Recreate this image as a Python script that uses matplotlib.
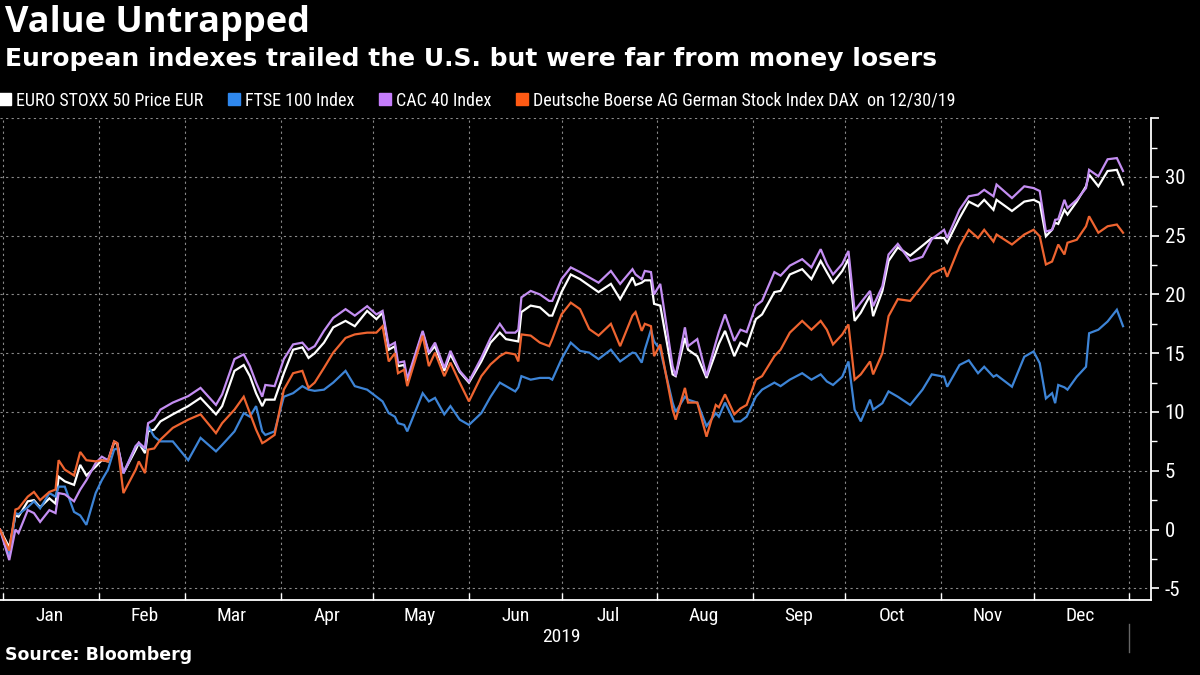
import numpy as np
import pandas as pd
import matplotlib
matplotlib.use('Agg')
import matplotlib.pyplot as plt
import matplotlib.dates as mdates
import matplotlib.transforms as mtransforms
from matplotlib import font_manager
from matplotlib.lines import Line2D

# --- data: % change since end of 2018 ---
# days since 2019-01-01
days = [-1, 2, 4, 5, 8, 10, 12, 15, 17, 18,
        20, 23, 25, 27, 30, 32, 34, 36, 37, 39,
        43, 44, 46, 47, 49, 51, 55, 60, 64, 69,
        71, 75, 78, 80, 82, 84, 85, 88, 91, 94,
        97, 99, 101, 104, 107, 111, 114, 118, 121, 123,
        125, 127, 128, 130, 131, 136, 138, 140, 143, 145,
        148, 151, 155, 158, 161, 163, 166, 167, 168, 171,
        174, 177, 178, 181, 184, 187, 190, 193, 197, 200,
        204, 205, 207, 208, 210, 211, 213, 217, 218, 221,
        222, 225, 228, 231, 232, 234, 237, 239, 241, 244,
        246, 250, 252, 255, 259, 262, 265, 267, 269, 272,
        274, 276, 278, 281, 282, 285, 287, 290, 294, 298,
        301, 305, 306, 310, 313, 316, 318, 321, 322, 327,
        331, 334, 336, 338, 340, 341, 342, 344, 345, 348,
        351, 352, 355, 358, 361, 363]

euro_stoxx = [0, -1.5, 1.2, 1.1, 2.4, 2.5, 1.9, 2.65, 2.2, 4.5,
              4.1, 3.8, 5.5, 4.6, 5.35, 5.9, 5.8, 7.4, 7.3, 4.8,
              6.8, 7.35, 6.5, 8.35, 8.5, 9.2, 9.8, 10.5, 11.2, 9.8,
              10.5, 13.5, 14.0, 13.05, 11.6, 10.5, 11.05, 11.05, 13.3, 15.3,
              15.5, 14.6, 15.0, 15.9, 17.2, 17.75, 17.3, 18.6, 17.9, 18.45,
              15.3, 15.6, 13.9, 14.0, 12.6, 16.75, 15.0, 15.6, 13.5, 14.9,
              13.4, 12.5, 14.3, 15.9, 16.75, 16.2, 16.05, 16.0, 18.5, 19.05,
              18.9, 18.2, 18.2, 20.2, 21.7, 21.3, 20.75, 20.2, 20.9, 19.6,
              21.45, 20.8, 21.0, 21.2, 21.2, 19.2, 19.05, 13.2, 13.05, 16.3,
              15.3, 14.75, 12.9, 15.05, 15.8, 16.9, 14.75, 15.9, 15.6, 17.9,
              18.3, 20.2, 20.3, 21.7, 22.15, 21.3, 22.85, 21.9, 21.0, 22.0,
              23.0, 17.75, 18.45, 19.9, 18.15, 20.3, 22.85, 24.0, 23.3, 24.15,
              24.8, 24.8, 24.4, 26.5, 27.9, 27.5, 28.05, 27.2, 28.05, 27.1,
              27.9, 28.05, 27.8, 24.95, 25.5, 26.1, 26.0, 27.2, 26.8, 27.9,
              29.2, 30.2, 29.2, 30.5, 30.6, 29.35]

ftse = [0, -2.3, 1.4, 1.3, 1.9, 2.4, 1.8, 3.1, 2.8, 3.65,
        3.65, 1.5, 1.2, 0.4, 3.1, 4.2, 5.1, 6.8, 6.9, 4.8,
        7.1, 7.3, 6.9, 8.8, 7.9, 7.5, 7.5, 5.9, 7.8, 6.65,
        7.2, 8.35, 9.9, 9.6, 10.5, 8.35, 8.05, 8.35, 11.3, 11.6,
        12.2, 11.9, 11.8, 11.9, 12.5, 13.5, 12.2, 11.9, 11.3, 10.9,
        9.9, 9.6, 9.05, 8.9, 8.35, 11.6, 10.9, 11.2, 9.8, 10.5,
        9.35, 8.9, 9.9, 11.3, 12.5, 12.2, 11.75, 12.1, 13.05, 12.75,
        12.9, 12.9, 12.75, 14.5, 15.9, 15.2, 15.05, 14.5, 15.3, 14.3,
        15.05, 15.0, 14.2, 15.3, 17.0, 16.0, 15.3, 10.8, 10.0, 11.3,
        11.05, 10.8, 8.8, 9.9, 9.6, 10.8, 9.2, 9.2, 9.6, 11.3,
        11.9, 12.5, 12.2, 12.75, 13.3, 12.75, 13.2, 12.6, 12.3, 13.0,
        14.3, 10.2, 9.2, 11.05, 10.2, 10.75, 11.75, 11.3, 10.6, 11.9,
        13.2, 13.0, 12.15, 14.0, 14.4, 13.3, 13.85, 13.0, 13.15, 12.15,
        14.7, 15.15, 14.15, 11.15, 11.6, 10.75, 12.3, 12.1, 11.9, 13.0,
        13.85, 16.7, 17.0, 17.7, 18.7, 17.3]

cac = [0, -2.6, 0.0, -0.3, 1.65, 1.4, 0.65, 1.65, 1.4, 3.1,
       3.0, 2.4, 3.4, 4.2, 5.65, 6.2, 5.9, 7.5, 7.35, 4.8,
       7.1, 7.4, 6.9, 9.05, 9.35, 10.2, 10.8, 11.35, 12.05, 10.6,
       11.5, 14.5, 14.9, 13.9, 12.5, 11.3, 12.3, 12.2, 14.5, 15.75,
       15.9, 15.3, 15.6, 16.9, 18.0, 18.75, 18.2, 19.0, 18.3, 18.6,
       15.6, 15.9, 14.2, 14.3, 12.8, 16.9, 15.05, 15.9, 13.75, 15.2,
       13.5, 12.6, 14.6, 16.3, 17.5, 16.75, 16.75, 17.0, 19.75, 20.3,
       20.0, 19.45, 19.45, 21.3, 22.3, 21.9, 21.45, 21.0, 22.0, 20.9,
       22.15, 21.7, 21.3, 22.0, 21.9, 20.0, 20.9, 13.9, 13.05, 17.2,
       15.6, 16.2, 13.05, 15.9, 16.8, 18.3, 16.05, 17.0, 16.8, 19.05,
       19.45, 21.9, 21.6, 22.45, 23.0, 22.3, 23.85, 22.6, 21.7, 22.6,
       23.7, 18.6, 19.3, 20.3, 19.0, 20.7, 23.4, 24.3, 22.85, 23.2,
       24.7, 25.5, 24.8, 27.2, 28.35, 28.5, 28.9, 28.35, 29.35, 28.2,
       29.2, 29.05, 28.8, 25.35, 25.5, 26.35, 26.4, 28.05, 27.35, 28.05,
       29.05, 30.6, 30.05, 31.5, 31.6, 30.5]

dax = [0, -1.8, 1.7, 1.8, 2.8, 3.2, 2.5, 3.2, 3.4, 5.9,
       5.1, 4.6, 6.6, 5.9, 5.8, 5.9, 5.8, 7.5, 7.35, 3.1,
       5.1, 5.8, 4.8, 6.8, 6.9, 7.65, 8.65, 9.35, 9.8, 8.2,
       9.05, 10.2, 11.3, 9.9, 8.5, 7.35, 7.5, 8.05, 11.9, 13.3,
       13.5, 12.05, 12.5, 13.75, 15.05, 16.3, 16.6, 16.75, 16.75, 17.3,
       14.3, 15.0, 13.3, 13.6, 12.2, 16.5, 13.9, 15.05, 13.05, 14.2,
       12.5, 10.9, 13.05, 14.05, 14.75, 15.05, 14.9, 14.3, 16.6, 16.5,
       15.9, 15.6, 16.2, 18.3, 19.3, 18.75, 17.05, 16.5, 17.5, 15.6,
       18.2, 18.5, 16.9, 17.5, 17.3, 14.75, 15.75, 10.2, 9.35, 12.05,
       10.8, 10.8, 7.9, 10.6, 10.4, 11.5, 9.8, 10.3, 10.6, 12.75,
       13.05, 14.75, 15.3, 16.75, 17.75, 17.0, 17.75, 17.0, 15.75, 16.6,
       17.45, 12.75, 13.2, 14.3, 13.2, 15.0, 18.15, 19.6, 19.45, 20.75,
       21.75, 22.25, 21.5, 24.1, 25.5, 24.8, 25.5, 24.5, 25.1, 24.25,
       25.1, 25.5, 24.95, 22.55, 22.8, 23.5, 24.25, 23.4, 24.4, 24.65,
       25.8, 26.65, 25.25, 25.8, 25.95, 25.25]

labels = ['EURO STOXX 50 Price EUR', 'FTSE 100 Index', 'CAC 40 Index',
          'Deutsche Boerse AG German Stock Index DAX  on 12/30/19']
line_colors = ['#ffffff', '#3d84d6', '#c48ef2', '#ee6430']
key_colors = ['#ffffff', '#2f88ee', '#c57dfb', '#ff5a14']
series = [euro_stoxx, ftse, cac, dax]

dates = pd.Timestamp('2019-01-01') + pd.to_timedelta(days, unit='D')

# fonts
names = {f.name for f in font_manager.fontManager.ttflist}
cond = next((n for n in ['Liberation Sans Narrow', 'Roboto Condensed', 'DejaVu Sans']
             if n in names), 'DejaVu Sans')
head = 'Open Sans' if 'Open Sans' in names else 'DejaVu Sans'

fig = plt.figure(figsize=(12, 6.75), dpi=100, facecolor='black')
ax = fig.add_axes([0.0, 0.111, 0.959, 0.714], facecolor='black')

for vals, c in zip(series, line_colors):
    ax.plot(dates, vals, color=c, lw=1.6, solid_joinstyle='miter')

ax.set_xlim(pd.Timestamp('2018-12-31'), pd.Timestamp('2020-01-08'))
ax.set_ylim(-6, 35)

# y axis on the right
ax.yaxis.tick_right()
ax.set_yticks(np.arange(-5, 36, 5))
ax.set_yticklabels([str(v) if v < 35 else '' for v in range(-5, 36, 5)])
ax.set_yticks(np.arange(-5, 35, 2.5), minor=True)
ax.tick_params(axis='y', which='major', colors='white', length=6, width=1.2,
               labelsize=15, pad=4)
ax.tick_params(axis='y', which='minor', colors='white', length=4, width=1)
for lab in ax.get_yticklabels():
    lab.set_fontfamily(cond)

# x axis: month boundaries as ticks, labels mid-month
ax.xaxis.set_major_locator(mdates.MonthLocator())
ax.xaxis.set_major_formatter(plt.NullFormatter())
ax.xaxis.set_minor_locator(mdates.MonthLocator(bymonthday=16))
ax.xaxis.set_minor_formatter(mdates.DateFormatter('%b'))
ax.tick_params(axis='x', which='major', direction='in', colors='white',
               length=5, width=1)
ax.tick_params(axis='x', which='minor', length=0, colors='white',
               labelsize=14, pad=5)
for lab in ax.get_xticklabels(minor=True):
    lab.set_fontfamily(cond)

for s in ['top', 'left']:
    ax.spines[s].set_visible(False)
for s in ['right', 'bottom']:
    ax.spines[s].set_color('white')
    ax.spines[s].set_linewidth(1.3)

ax.grid(True, which='major', color='#8a8a8a', lw=0.8, ls=(0, (2, 3)))

trans = mtransforms.blended_transform_factory(ax.transData, ax.transAxes)
ax.text(pd.Timestamp('2019-07-01'), -0.077, '2019', transform=trans,
        ha='center', va='center', color='white', fontsize=14, family=cond)
ax.plot([pd.Timestamp('2020-01-01')] * 2, [-0.05, -0.108], transform=trans,
        color='#666666', lw=1, clip_on=False)

# titles
fig.text(0.004, 0.992, 'Value Untrapped', color='white', fontsize=26,
         weight='bold', family=head, va='top')
fig.text(0.004, 0.930, 'European indexes trailed the U.S. but were far from money losers',
         color='white', fontsize=18, weight='bold', family='DejaVu Sans', va='top')

# legend
handles = [Line2D([], [], ls='none', marker='s', ms=8, color=c) for c in key_colors]
leg = fig.legend(handles, labels, loc='center left', bbox_to_anchor=(0.0, 0.851),
                 ncol=4, frameon=False, handlelength=0.6, handletextpad=0.3,
                 columnspacing=1.4, borderaxespad=0, borderpad=0,
                 prop={'family': cond, 'size': 13})
for t in leg.get_texts():
    t.set_color('white')

fig.text(0.004, 0.017, 'Source: Bloomberg', color='white', fontsize=12.5,
         weight='bold', family='DejaVu Sans', va='bottom')

fig.savefig('out.png', dpi=100, facecolor='black')
